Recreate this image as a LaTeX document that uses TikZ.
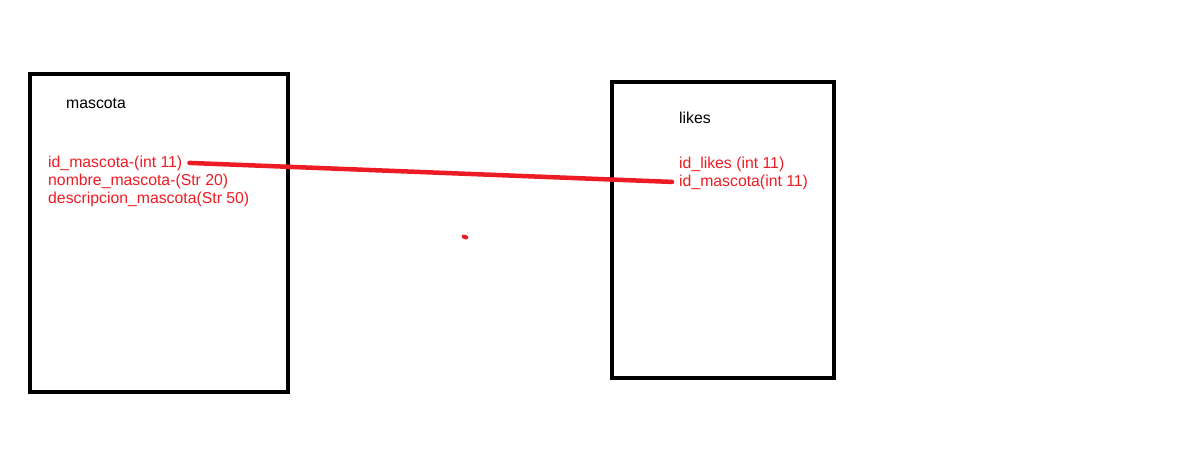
\documentclass[tikz,border=0pt]{standalone}
\usepackage{fontspec}
\setmainfont{Liberation Sans}
\definecolor{pred}{RGB}{237,28,36}
\begin{document}
\begin{tikzpicture}[x=1pt,y=-1pt,
  tbox/.style={draw=black,line width=4pt},
  title/.style={anchor=base west,inner sep=0pt,font=\fontsize{15.8}{18}\selectfont,text=black},
  field/.style={anchor=base west,inner sep=0pt,font=\fontsize{15.8}{18}\selectfont,text=pred},
  rel/.style={draw=pred,line width=4.5pt,line cap=round}]
\useasboundingbox (0,0) rectangle (1180,474);
\fill[white] (0,0) rectangle (1180,474);
% left table
\draw[tbox] (29.5,73.5) rectangle (287.5,391.5);
\node[title] (mt) at (66,108) {mascota};
\node[field] (m1) at (48,167) {id\_mascota-(int 11)};
\node[field] (m2) at (48,185) {nombre\_mascota-(Str 20)};
\node[field] (m3) at (48,203) {descripcion\_mascota(Str 50)};
% right table
\draw[tbox] (612,82) rectangle (834,378);
\node[title] (lt) at (679,123) {likes};
\node[field] (l1) at (679,168) {id\_likes (int 11)};
\node[field] (l2) at (679,186) {id\_mascota(int 11)};
% relation
\coordinate (a) at ([xshift=7pt]m1.east);
\coordinate (b) at ([xshift=-7pt]l2.west);
\draw[rel] (a) -- (b);
% stray dot
\fill[pred,rotate around={-20:(465,237)}] (465,237) ellipse (3.5 and 2.3);
\end{tikzpicture}
\end{document}
